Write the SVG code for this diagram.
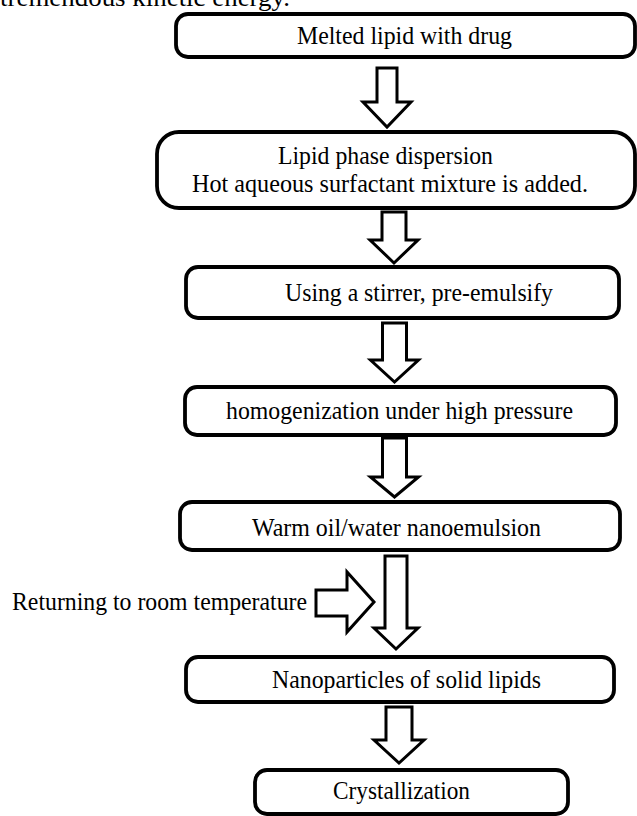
<svg xmlns="http://www.w3.org/2000/svg" width="637" height="816" viewBox="0 0 637 816">
<style>
.box{fill:#fff;stroke:#000;stroke-width:3.8}
.arr{fill:#fff;stroke:#000;stroke-width:3;stroke-linejoin:miter}
text{font-family:"Liberation Serif","Times New Roman",serif;font-size:25px;fill:#000}
</style>
<rect width="637" height="816" fill="#fff"/>
<text x="0" y="6" textLength="290" lengthAdjust="spacingAndGlyphs">tremendous kinetic energy.</text>
<g id="connectors">
<polygon class="arr" points="377,68 397,68 397,102 411,102 387,127 363,102 377,102"/>
<polygon class="arr" points="382,212 406,212 406,240 418,240 394,263 370,240 382,240"/>
<polygon class="arr" points="382.5,323 406.5,323 406.5,360 418.5,360 394.5,382 370.5,360 382.5,360"/>
<polygon class="arr" points="382.5,438 406.5,438 406.5,477 418.5,477 394.5,497 370.5,477 382.5,477"/>
<polygon class="arr" points="385,556 407,556 407,628 418,628 396,649 374,628 385,628"/>
<polygon class="arr" points="386,707 412,707 412,740 424,740 399,763 374,740 386,740"/>
<polygon class="arr" points="316,590 347,590 347,572 374,602 347,632 347,616 316,616"/>
</g>
<g id="n1"><rect class="box" x="176" y="14" width="459" height="43" rx="12"/><text x="297" y="44" textLength="215" lengthAdjust="spacingAndGlyphs">Melted lipid with drug</text></g>
<g id="n2"><rect class="box" x="157" y="132" width="478" height="76" rx="22"/><text x="278" y="164" textLength="215" lengthAdjust="spacingAndGlyphs">Lipid phase dispersion</text><text x="192" y="192" textLength="396" lengthAdjust="spacingAndGlyphs">Hot aqueous surfactant mixture is added.</text></g>
<g id="n3"><rect class="box" x="186" y="267" width="433" height="51" rx="12"/><text x="285" y="301" textLength="268" lengthAdjust="spacingAndGlyphs">Using a stirrer, pre-emulsify</text></g>
<g id="n4"><rect class="box" x="185" y="387" width="431" height="48" rx="12"/><text x="226" y="419" textLength="347" lengthAdjust="spacingAndGlyphs">homogenization under high pressure</text></g>
<g id="n5"><rect class="box" x="180" y="502" width="440" height="48" rx="12"/><text x="252" y="536" textLength="289" lengthAdjust="spacingAndGlyphs">Warm oil/water  nanoemulsion</text></g>
<g id="n6"><rect class="box" x="186" y="657" width="428" height="45" rx="12"/><text x="272" y="688" textLength="269" lengthAdjust="spacingAndGlyphs">Nanoparticles  of solid lipids</text></g>
<g id="n7"><rect class="box" x="255" y="770" width="313" height="44" rx="12"/><text x="333" y="799" textLength="137" lengthAdjust="spacingAndGlyphs">Crystallization</text></g>
<g id="label"><text x="12" y="610" textLength="295" lengthAdjust="spacingAndGlyphs">Returning to room  temperature</text></g>
</svg>
